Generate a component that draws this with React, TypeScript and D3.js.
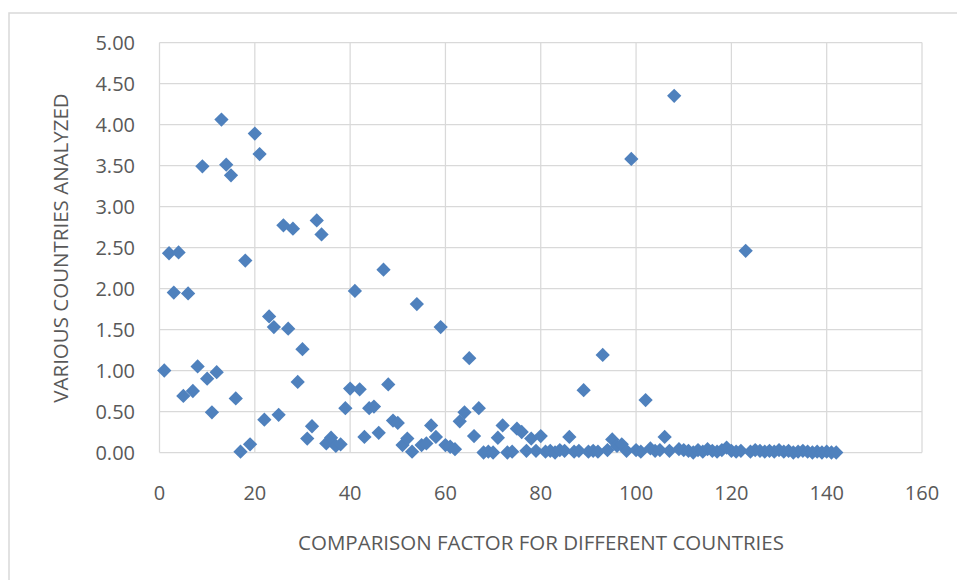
import React, {useEffect, useRef} from 'react';
import * as d3 from 'd3';

// y value for each country index (x = 1..142)
const yValues: number[] = [
  1.0, 2.43, 1.95, 2.44, 0.69, 1.94, 0.75, 1.05, 3.49, 0.9,
  0.49, 0.98, 4.06, 3.51, 3.38, 0.66, 0.01, 2.34, 0.1, 3.89,
  3.64, 0.4, 1.66, 1.53, 0.46, 2.77, 1.51, 2.73, 0.86, 1.26,
  0.17, 0.32, 2.83, 2.66, 0.11, 0.18, 0.08, 0.1, 0.54, 0.78,
  1.97, 0.77, 0.19, 0.54, 0.56, 0.24, 2.23, 0.83, 0.39, 0.36,
  0.09, 0.17, 0.01, 1.81, 0.09, 0.11, 0.33, 0.19, 1.53, 0.09,
  0.07, 0.04, 0.38, 0.49, 1.15, 0.2, 0.54, 0.0, 0.01, 0.0,
  0.18, 0.33, 0.0, 0.01, 0.29, 0.25, 0.02, 0.17, 0.02, 0.2,
  0.01, 0.02, 0.0, 0.03, 0.02, 0.19, 0.01, 0.02, 0.76, 0.01,
  0.02, 0.01, 1.19, 0.03, 0.16, 0.08, 0.1, 0.02, 3.58, 0.03,
  0.01, 0.64, 0.05, 0.02, 0.03, 0.19, 0.02, 4.35, 0.04, 0.03,
  0.02, 0.0, 0.03, 0.01, 0.04, 0.02, 0.01, 0.03, 0.06, 0.02,
  0.01, 0.02, 2.46, 0.01, 0.03, 0.02, 0.01, 0.02, 0.01, 0.03,
  0.01, 0.02, 0.0, 0.01, 0.02, 0.01, 0.0, 0.01, 0.0, 0.01,
  0.0, 0.0,
];
const xTicks = [0, 20, 40, 60, 80, 100, 120, 140, 160];
const yTicks = [0, 0.5, 1, 1.5, 2, 2.5, 3, 3.5, 4, 4.5, 5];
const xTitle = 'COMPARISON FACTOR FOR DIFFERENT COUNTRIES';
const yTitle = 'VARIOUS COUNTRIES ANALYZED';

const App: React.FC = () => {
  const svgRef = useRef<SVGSVGElement>(null);

  useEffect(() => {
    document.body.style.margin = '0';
    const svg = d3.select(svgRef.current);
    svg.selectAll('*').remove();

    const font = "'Open Sans', 'Noto Sans', sans-serif";
    const grid = '#d9d9d9';
    const textColor = '#595959';

    const x = d3.scaleLinear().domain([0, 160]).range([159.5, 922]);
    const y = d3.scaleLinear().domain([0, 5]).range([452.5, 42.5]);

    // outer chart border (cropped at right/bottom)
    svg.append('path')
      .attr('d', 'M9,580 L9,13 L957,13')
      .attr('fill', 'none')
      .attr('stroke', grid)
      .attr('stroke-width', 1.5);

    // gridlines
    svg.append('g')
      .selectAll('line')
      .data(yTicks)
      .enter()
      .append('line')
      .attr('x1', x(0))
      .attr('x2', x(160))
      .attr('y1', (d) => y(d))
      .attr('y2', (d) => y(d))
      .attr('stroke', grid)
      .attr('stroke-width', 1.25);
    svg.append('g')
      .selectAll('line')
      .data(xTicks)
      .enter()
      .append('line')
      .attr('x1', (d) => x(d))
      .attr('x2', (d) => x(d))
      .attr('y1', y(0))
      .attr('y2', y(5))
      .attr('stroke', grid)
      .attr('stroke-width', 1.25);

    // tick labels
    svg.append('g')
      .selectAll('text')
      .data(yTicks)
      .enter()
      .append('text')
      .attr('x', 135)
      .attr('y', (d) => y(d))
      .attr('dy', '0.35em')
      .attr('text-anchor', 'end')
      .attr('font-family', font)
      .attr('font-size', 20)
      .attr('fill', textColor)
      .text((d) => d3.format('.2f')(d));
    svg.append('g')
      .selectAll('text')
      .data(xTicks)
      .enter()
      .append('text')
      .attr('x', (d) => x(d))
      .attr('y', 493)
      .attr('dy', '0.35em')
      .attr('text-anchor', 'middle')
      .attr('font-family', font)
      .attr('font-size', 20)
      .attr('fill', textColor)
      .text((d) => String(d));

    // axis titles
    svg.append('text')
      .attr('x', 541)
      .attr('y', 543)
      .attr('dy', '0.35em')
      .attr('text-anchor', 'middle')
      .attr('font-family', font)
      .attr('font-size', 20.5)
      .attr('fill', textColor)
      .text(xTitle);
    svg.append('text')
      .attr('transform', 'translate(61,248) rotate(-90)')
      .attr('dy', '0.35em')
      .attr('text-anchor', 'middle')
      .attr('font-family', font)
      .attr('font-size', 20.5)
      .attr('fill', textColor)
      .text(yTitle);

    // diamond markers
    const diamond = d3.symbol().type(d3.symbolDiamond2).size(130);
    svg.append('g')
      .selectAll('path')
      .data(yValues)
      .enter()
      .append('path')
      .attr('d', diamond)
      .attr('transform', (d, i) => 'translate(' + x(i + 1) + ',' + y(d) + ')')
      .attr('fill', '#4f81bd');
  }, []);

  return <svg ref={svgRef} width={957} height={580} style={{display: 'block'}} />;
};

export default App;
